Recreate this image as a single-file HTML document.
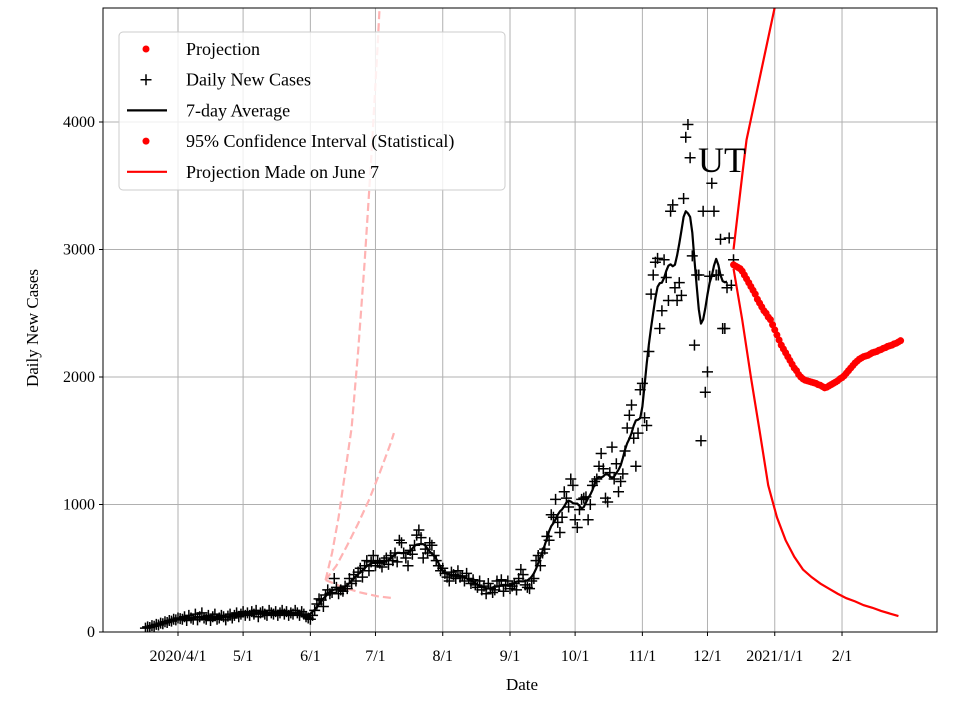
<!DOCTYPE html>
<html><head><meta charset="utf-8"><style>
body{margin:0;background:#fff}
svg{display:block;font-family:"Liberation Serif",serif}
</style></head><body>
<svg id="chart" width="960" height="720" viewBox="0 0 960 720" xmlns="http://www.w3.org/2000/svg"></svg>
<script>
const xTickLabels=["2020/4/1","5/1","6/1","7/1","8/1","9/1","10/1","11/1","12/1","2021/1/1","2/1"];
const xTickDays=[0,30,61,91,122,153,183,214,244,275,306];
const yTicks=[0,1000,2000,3000,4000];
const startDay=-15;
const daily=[30,40,35,50,45,60,55,70,65,80,75,90,85,100,95,110,105,
100,120,90,130,110,100,140,95,120,150,110,100,130,90,120,140,100,110,130,120,95,125,140,110,130,150,120,140,160,130,
150,130,160,140,170,120,150,160,140,130,170,150,140,160,130,150,170,140,160,130,150,140,170,150,130,160,140,120,110,100,130,
170,220,260,250,200,290,330,300,310,420,350,300,330,320,360,340,420,380,450,400,470,500,430,520,560,480,550,600,520,560,
540,510,560,580,530,600,560,620,550,720,700,620,580,520,640,610,680,760,800,740,580,650,620,700,680,600,560,520,480,500,460,
430,400,470,450,420,480,430,440,400,460,420,380,410,370,350,400,330,360,300,380,340,310,330,400,360,410,320,370,400,340,360,
380,330,420,490,450,370,350,340,400,420,560,600,520,620,650,750,720,920,900,1040,860,780,900,1100,1050,980,1200,1150,880,820,
960,1040,1050,1060,880,1000,1150,1180,1200,1300,1400,1280,1050,1020,1250,1450,1200,1320,1100,1180,1240,1420,1600,1700,1780,1520,1300,1560,1900,1950,1680,
1620,2200,2650,2800,2900,2930,2380,2520,2920,2780,2600,3300,3350,2700,2600,2740,2640,3400,3880,3980,3720,2950,2250,2800,2800,1500,3300,1880,2040,2790,
3520,3300,2800,2800,3080,2380,2380,2700,3090,2720,2920];
const projStart=256;
const projection=[2880,2870,2860,2850,2830,2800,2770,2740,2710,2680,2650,2610,2580,2550,2520,2500,2470,2450,
2410,2370,2330,2290,2250,2220,2190,2160,2130,2100,2070,2050,2020,2000,
1985,1975,1970,1965,1960,1955,1950,1940,1935,1925,1915,
1920,1930,1940,1950,1960,1970,1985,1995,2010,2030,2050,2070,
2090,2110,2125,2140,2150,2160,2165,2170,2180,
2190,2195,2200,2210,2215,2225,2230,2240,2245,2250,2260,2265,2275,2285];
const ciUpperDays=[256,258,260,262,264,266,268,270,272,274,276];
const ciUpper=[3000,3290,3580,3860,4020,4180,4340,4500,4660,4820,4980];
const ciLowerDays=[256,260,264,268,272,276,280,284,288,292,296,300,304,308,312,316,320,324,328,332];
const ciLower=[2850,2450,2000,1580,1150,900,720,590,490,430,380,340,300,265,240,210,190,165,145,125];
const juneUpperDays=[68,71,74,77,80,83,86,89,92,95];
const juneUpper=[408,620,900,1250,1600,2200,2900,3700,4600,5600];
const juneMidDays=[68,73,78,83,88,93,98,99.5];
const juneMid=[408,520,680,850,1035,1250,1480,1560];
const juneLowDays=[68,76,84,92,99.5];
const juneLow=[408,350,310,280,265];

const L=103,R=937,T=8,B=632;
const X=d=>178+d*2.17;
const Y=v=>632-v*0.1275;
const NS="http://www.w3.org/2000/svg";
const svg=document.getElementById('chart');
function mk(tag,attrs,parent){const e=document.createElementNS(NS,tag);for(const k in attrs)e.setAttribute(k,attrs[k]);(parent||svg).appendChild(e);return e;}
const defs=mk('defs',{});const cp=mk('clipPath',{id:'clip'},defs);mk('rect',{x:L,y:T,width:R-L,height:B-T},cp);

const grid=mk('g',{});


xTickDays.forEach((d,i)=>{
  const x=X(d);
  mk('line',{x1:x,x2:x,y1:T,y2:B,stroke:'#b0b0b0','stroke-width':1},grid);
  mk('line',{x1:x,x2:x,y1:B,y2:B+4,stroke:'#000','stroke-width':1},grid);
  const t=mk('text',{x:x,y:B+29,'text-anchor':'middle','font-size':16},grid);
  t.textContent=xTickLabels[i];
  
  
});
yTicks.forEach(v=>{
  const y=Y(v);
  mk('line',{x1:L,x2:R,y1:y,y2:y,stroke:'#b0b0b0','stroke-width':1},grid);
  mk('line',{x1:L-4,x2:L,y1:y,y2:y,stroke:'#000','stroke-width':1},grid);
  const t=mk('text',{x:L-8,y:y+5,'text-anchor':'end','font-size':16},grid);
  t.textContent=String(v);
  
  
});

const plot=mk('g',{'clip-path':'url(#clip)'});
function line(days,vals,attrs,name){
  const p=mk('polyline',Object.assign({points:days.map((d,i)=>X(d)+','+Y(vals[i])).join(' '),fill:'none'},attrs),plot);
  
  
}
const dash={stroke:'#ffb3b3','stroke-width':2.2,'stroke-dasharray':'8,4'};
line(juneUpperDays,juneUpper,dash,'june-projection-upper');
line(juneMidDays,juneMid,dash,'june-projection-mid');
line(juneLowDays,juneLow,dash,'june-projection-lower');

daily.forEach((v,i)=>{
  const x=X(startDay+i),y=Y(v);
  const p=mk('path',{d:`M${x-5.5},${y}H${x+5.5}M${x},${y-5.5}V${y+5.5}`,stroke:'#000','stroke-width':1.5},plot);
  
  
});
const avgDays=[],avgVals=[];
for(let i=3;i<daily.length-3;i++){let s=0;for(let k=-3;k<=3;k++)s+=daily[i+k];avgDays.push(startDay+i);avgVals.push(s/7);}
const smooth=avgVals.map((v,i)=>{const a=avgVals[Math.max(0,i-1)],b=avgVals[Math.min(avgVals.length-1,i+1)];return (a+2*v+b)/4;});
line(avgDays,smooth,{stroke:'#000','stroke-width':2.2,'stroke-linejoin':'round'},'seven-day-average-line');

line(ciUpperDays,ciUpper,{stroke:'#f00','stroke-width':2.2},'ci-upper-line');
line(ciLowerDays,ciLower,{stroke:'#f00','stroke-width':2.2},'ci-lower-line');
projection.forEach((v,i)=>{
  const c=mk('circle',{cx:X(projStart+i),cy:Y(v),r:3.5,fill:'#f00'},plot);
  
  
});

mk('rect',{x:L,y:T,width:R-L,height:B-T,fill:'none',stroke:'#000','stroke-width':1});

const ut=mk('text',{x:698,y:172,'font-size':36});ut.textContent='UT';


const xl=mk('text',{x:522,y:690,'text-anchor':'middle','font-size':17});xl.textContent='Date';


const yl=mk('text',{x:0,y:0,'text-anchor':'middle','font-size':17,transform:'translate(38,328) rotate(-90)'});yl.textContent='Daily New Cases';



const lg=mk('g',{});


mk('rect',{x:119,y:32,width:386,height:158,rx:4,fill:'#fff','fill-opacity':0.8,stroke:'#ccc','stroke-width':1},lg);
const entries=['Projection','Daily New Cases','7-day Average','95% Confidence Interval (Statistical)','Projection Made on June 7'];
entries.forEach((txt,i)=>{
  const y=49+i*30.7;
  const g=mk('g',{},lg);
  
  
  if(i===0||i===3) mk('circle',{cx:146,cy:y,r:3.5,fill:'#f00'},g);
  if(i===1) mk('path',{d:`M140.5,${y}H151.5M146,${y-5.5}V${y+5.5}`,stroke:'#000','stroke-width':1.5},g);
  if(i===2) mk('line',{x1:127,x2:167,y1:y,y2:y,stroke:'#000','stroke-width':2.2},g);
  if(i===4) mk('line',{x1:127,x2:167,y1:y,y2:y,stroke:'#f00','stroke-width':2.2},g);
  const t=mk('text',{x:186,y:y+6,'font-size':18},g);t.textContent=txt;
});
</script>
</body></html>
